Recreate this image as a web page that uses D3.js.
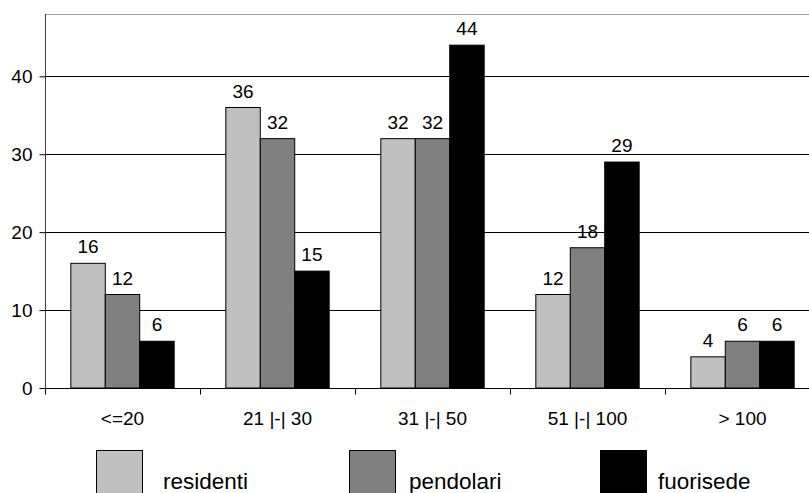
<!DOCTYPE html>
<html><head><meta charset="utf-8">
<script src="https://cdn.jsdelivr.net/npm/d3@7"></script>
<style>body{margin:0;background:#fff}svg{display:block}text{font-family:"Liberation Sans",Arial,sans-serif}</style>
</head><body><svg id="c" width="809" height="493"></svg>
<script>
const categories = ["<=20", "21 |-| 30", "31 |-| 50", "51 |-| 100", "> 100"];
const series = ["residenti", "pendolari", "fuorisede"];
const residenti = [16, 36, 32, 12, 4];
const pendolari = [12, 32, 32, 18, 6];
const fuorisede = [6, 15, 44, 29, 6];
const yTicks = [0, 10, 20, 30, 40];
const colors = ["#c0c0c0", "#808080", "#000000"];
const values = [residenti, pendolari, fuorisede];

const svg = d3.select("#c");
const x0 = d3.scaleBand().domain(categories).range([45, 820]);
const bw = x0.bandwidth();
const x1 = d3.scaleBand().domain(series).range([bw / 6 * 1, bw - bw / 6]);
const y = d3.scaleLinear().domain([0, 48]).range([388, 14]);

// top border
svg.append("line").attr("x1", 45).attr("x2", 809).attr("y1", 14.5).attr("y2", 14.5)
  .attr("stroke", "#a0a0a0").attr("stroke-width", 1.2);
// gridlines
svg.append("g").selectAll("line").data(yTicks.filter(d => d > 0)).join("line")
  .attr("x1", 45).attr("x2", 809).attr("y1", d => Math.round(y(d)) + 0.5).attr("y2", d => Math.round(y(d)) + 0.5)
  .attr("stroke", "#000").attr("stroke-width", 1);

// bars
const g = svg.append("g");
categories.forEach((c, i) => {
  series.forEach((s, j) => {
    const v = values[j][i];
    g.append("rect")
      .attr("x", x0(c) + x1(s)).attr("y", y(v))
      .attr("width", x1.bandwidth()).attr("height", y(0) - y(v))
      .attr("fill", colors[j]).attr("stroke", "#000").attr("stroke-width", 1);
    g.append("text")
      .attr("x", x0(c) + x1(s) + x1.bandwidth() / 2).attr("y", y(v) - 10)
      .attr("text-anchor", "middle").attr("font-size", 19).attr("fill", "#000")
      .text(v);
  });
});

// y axis
const ya = svg.append("g").attr("transform", "translate(45.5,0)")
  .call(d3.axisLeft(y).tickValues(yTicks).tickSize(6).tickPadding(7).tickFormat(d3.format("d")));
ya.select(".domain").attr("d", "M0,14V388").attr("stroke", "#404040");
ya.selectAll("text").attr("font-size", 19).attr("fill", "#000").attr("font-family", '"Liberation Sans",Arial,sans-serif');
ya.selectAll(".tick line").attr("stroke", "#000");

// x axis
const xa = svg.append("g").attr("transform", "translate(0,388.5)")
  .call(d3.axisBottom(x0).tickSize(0).tickPadding(0));
xa.select(".domain").remove();
xa.append("line").attr("x1", 45).attr("x2", 809).attr("y1", 0).attr("y2", 0).attr("stroke", "#000");
xa.selectAll(".tick text").attr("font-size", 19).attr("fill", "#000").attr("y", 36).attr("dy", 0)
  .attr("font-family", '"Liberation Sans",Arial,sans-serif');
const bounds = categories.map(c => x0(c)).concat([x0.range()[1]]);
xa.selectAll("line.sep").data(bounds).join("line").attr("class", "sep")
  .attr("x1", d => Math.round(d) + 0.5).attr("x2", d => Math.round(d) + 0.5).attr("y1", 0).attr("y2", 6).attr("stroke", "#000");

// legend
const legX = [96, 349, 600];
const legTX = [163, 409, 658];
series.forEach((s, j) => {
  svg.append("rect").attr("x", legX[j] + 0.5).attr("y", 450.5).attr("width", 46).attr("height", 50)
    .attr("fill", colors[j]).attr("stroke", "#000").attr("stroke-width", 1);
  svg.append("text").attr("x", legTX[j]).attr("y", 489).attr("font-size", 22.5).attr("fill", "#000").text(s);
});
</script></body></html>
